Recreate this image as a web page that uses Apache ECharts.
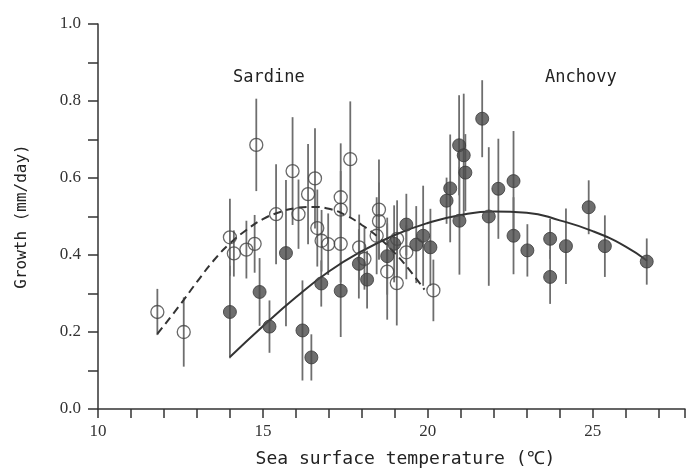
<!DOCTYPE html>
<html>
<head>
<meta charset="utf-8">
<script src="https://cdn.jsdelivr.net/npm/echarts@6/dist/echarts.min.js"></script>
<style>
html, body { margin: 0; padding: 0; background: #fff; }
#chart-container { width: 688px; height: 473px; }
</style>
</head>
<body>
<div id="chart-container"></div>
<script>
// Sardine (open circles): [temperature, growth, error]
var sardinePoints = [
	[11.8, 0.252, 0.06], [12.6, 0.200, 0.09], [14.0, 0.446, 0.10], [14.12, 0.404, 0.06],
	[14.5, 0.414, 0.075], [14.75, 0.429, 0.075], [14.8, 0.686, 0.12], [15.4, 0.506, 0.13],
	[15.9, 0.618, 0.14], [16.08, 0.506, 0.09], [16.37, 0.558, 0.13], [16.58, 0.599, 0.13],
	[16.65, 0.470, 0.10], [16.78, 0.437, 0.08], [16.98, 0.428, 0.08], [17.36, 0.550, 0.14],
	[17.36, 0.518, 0.10], [17.36, 0.429, 0.10], [17.65, 0.649, 0.15], [17.92, 0.420, 0.085],
	[18.08, 0.390, 0.08], [18.45, 0.450, 0.10], [18.52, 0.488, 0.10], [18.52, 0.518, 0.13],
	[18.77, 0.357, 0.125], [19.06, 0.327, 0.11], [19.07, 0.442, 0.10], [19.35, 0.407, 0.07],
	[20.17, 0.308, 0.08]
];

// Anchovy (filled circles): [temperature, growth, error]
var anchovyPoints = [
	[14.0, 0.252, 0.12], [14.9, 0.304, 0.088], [15.2, 0.214, 0.068], [15.7, 0.405, 0.19],
	[16.2, 0.204, 0.13], [16.47, 0.134, 0.06], [16.77, 0.326, 0.06], [17.36, 0.307, 0.12],
	[17.91, 0.377, 0.09], [18.16, 0.336, 0.075], [18.77, 0.397, 0.10], [18.98, 0.429, 0.10],
	[19.35, 0.479, 0.08], [19.65, 0.427, 0.10], [19.86, 0.450, 0.13], [20.08, 0.420, 0.10],
	[20.57, 0.541, 0.06], [20.68, 0.573, 0.14], [20.95, 0.685, 0.13], [20.96, 0.489, 0.14],
	[21.09, 0.659, 0.16], [21.14, 0.614, 0.10], [21.65, 0.754, 0.10], [21.85, 0.500, 0.18],
	[22.14, 0.572, 0.13], [22.6, 0.592, 0.13], [22.6, 0.450, 0.10], [23.02, 0.412, 0.068],
	[23.71, 0.442, 0.052], [23.71, 0.343, 0.07], [24.19, 0.423, 0.098], [24.88, 0.524, 0.07],
	[25.37, 0.423, 0.08], [26.64, 0.383, 0.06]
];

// fitted curves
var sardineCurve = [
	[11.8, 0.195], [12.5, 0.272], [13.0, 0.33], [13.5, 0.385], [14.0, 0.43], [14.5, 0.465],
	[15.0, 0.493], [15.5, 0.511], [16.0, 0.522], [16.5, 0.525], [17.0, 0.52], [17.5, 0.504],
	[18.0, 0.478], [18.5, 0.446], [19.0, 0.405], [19.4, 0.366], [19.9, 0.31]
];
var anchovyCurve = [
	[14.0, 0.135], [15.0, 0.215], [16.0, 0.29], [17.0, 0.357], [18.0, 0.41], [19.0, 0.452],
	[20.0, 0.483], [21.0, 0.504], [22.0, 0.513], [23.0, 0.51], [24.0, 0.49], [25.0, 0.462],
	[26.0, 0.422], [26.65, 0.385]
];

var xLabels = [10, 15, 20, 25];
var yLabels = [0, 0.2, 0.4, 0.6, 0.8, 1.0];

var chartDom = document.getElementById('chart-container');
var myChart = echarts.init(chartDom);

var labelFont = '"Liberation Serif", "Times New Roman", serif';
var monoFont = '"DejaVu Sans Mono", "Liberation Mono", monospace';

function isIn(list, v) {
	for (var i = 0; i < list.length; i++) {
		if (Math.abs(list[i] - v) < 1e-6) return true;
	}
	return false;
}

function errorBars(api) {
	var x = api.value(0), y = api.value(1), e = api.value(2);
	var p1 = api.coord([x, y + e]);
	var p2 = api.coord([x, y - e]);
	return {
		type: 'line',
		shape: { x1: p1[0], y1: p1[1], x2: p2[0], y2: p2[1] },
		style: { stroke: '#6e6e6e', lineWidth: 1.8 }
	};
}

var option = {
	animation: false,
	grid: { left: 98, right: 0, top: 24, bottom: 62 },
	xAxis: {
		type: 'value',
		min: 10,
		max: 27.8,
		interval: 1,
		name: 'Sea surface temperature (℃)',
		nameLocation: 'middle',
		nameGap: 41,
		nameTextStyle: { fontFamily: monoFont, fontSize: 18, color: '#222', padding: [0, 0, 0, 28] },
		axisLine: { show: true, lineStyle: { color: '#333', width: 1.5 } },
		axisTick: { show: true, inside: false, length: 9, lineStyle: { color: '#333', width: 1.5 } },
		axisLabel: {
			margin: 14,
			fontFamily: labelFont,
			fontSize: 17,
			color: '#333',
			formatter: function (v) { return isIn(xLabels, v) ? String(Math.round(v)) : ''; }
		},
		splitLine: { show: false }
	},
	yAxis: {
		type: 'value',
		min: 0,
		max: 1.0,
		interval: 0.1,
		name: 'Growth (mm/day)',
		nameLocation: 'middle',
		nameRotate: 90,
		nameGap: 68,
		nameTextStyle: { fontFamily: monoFont, fontSize: 16, color: '#222' },
		axisLine: { show: true, lineStyle: { color: '#333', width: 1.5 } },
		axisTick: { show: true, inside: false, length: 10, lineStyle: { color: '#333', width: 1.5 } },
		axisLabel: {
			margin: 17,
			fontFamily: labelFont,
			fontSize: 17,
			color: '#333',
			formatter: function (v) { return isIn(yLabels, v) ? v.toFixed(1) : ''; }
		},
		splitLine: { show: false }
	},
	graphic: [
		{ type: 'text', left: 233, top: 69, style: { text: 'Sardine', fontFamily: monoFont, fontSize: 17, fill: '#222' } },
		{ type: 'text', left: 545, top: 69, style: { text: 'Anchovy', fontFamily: monoFont, fontSize: 17, fill: '#222' } }
	],
	series: [
		{ type: 'custom', data: sardinePoints, renderItem: function (p, api) { return errorBars(api); }, z: 1 },
		{ type: 'custom', data: anchovyPoints, renderItem: function (p, api) { return errorBars(api); }, z: 1 },
		{
			type: 'line', data: sardineCurve, smooth: true, showSymbol: false, z: 2,
			lineStyle: { color: '#333', width: 2, type: [8, 5] }
		},
		{
			type: 'line', data: anchovyCurve, smooth: true, showSymbol: false, z: 2,
			lineStyle: { color: '#333', width: 2 }
		},
		{
			type: 'scatter', data: sardinePoints, symbol: 'circle', symbolSize: 13, z: 3,
			itemStyle: { color: 'rgba(255,255,255,0)', borderColor: '#444', borderWidth: 1.3 }
		},
		{
			type: 'scatter', data: anchovyPoints, symbol: 'circle', symbolSize: 13, z: 3,
			itemStyle: { color: '#4a4a4a', borderColor: '#3a3a3a', borderWidth: 1 }
		}
	]
};

myChart.setOption(option);

window.addEventListener('resize', function () {
	myChart.resize();
});
</script>
</body>
</html>
